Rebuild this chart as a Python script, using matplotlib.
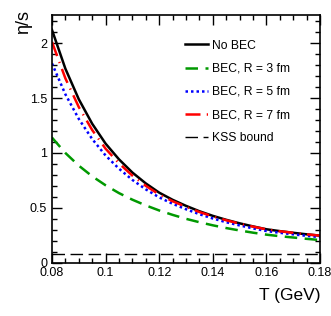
import matplotlib
matplotlib.use("Agg")
import matplotlib.pyplot as plt
from matplotlib.ticker import MultipleLocator, FixedLocator

plt.rcParams['font.family'] = ['Liberation Sans', 'DejaVu Sans']

T = [0.080, 0.085, 0.090, 0.095, 0.100, 0.105, 0.110, 0.115, 0.120, 0.125, 0.130,
     0.135, 0.140, 0.145, 0.150, 0.155, 0.160, 0.165, 0.170, 0.175, 0.180]
no_bec = [2.12, 1.767, 1.489, 1.266, 1.085, 0.942, 0.822, 0.723, 0.639, 0.574, 0.519,
          0.470, 0.428, 0.392, 0.360, 0.332, 0.306, 0.289, 0.274, 0.260, 0.248]
bec_r3 = [1.14, 1.00, 0.885, 0.788, 0.706, 0.635, 0.575, 0.523, 0.477, 0.437, 0.401,
          0.370, 0.342, 0.317, 0.295, 0.275, 0.257, 0.243, 0.231, 0.219, 0.208]
bec_r5 = [1.815, 1.534, 1.310, 1.127, 0.977, 0.857, 0.755, 0.669, 0.596, 0.538, 0.488,
          0.443, 0.404, 0.370, 0.341, 0.314, 0.290, 0.274, 0.260, 0.246, 0.235]
bec_r7 = [2.010, 1.679, 1.418, 1.209, 1.039, 0.906, 0.794, 0.701, 0.622, 0.561, 0.510,
          0.463, 0.423, 0.388, 0.357, 0.330, 0.305, 0.288, 0.274, 0.260, 0.248]
kss = 0.0796
x_ticks = [0.08, 0.10, 0.12, 0.14, 0.16, 0.18]
x_labels = ["0.08", "0.1", "0.12", "0.14", "0.16", "0.18"]
y_ticks = [0, 0.5, 1, 1.5, 2]
y_labels = ["0", "0.5", "1", "1.5", "2"]

fig = plt.figure(figsize=(3.31, 3.16), dpi=100)
ax = fig.add_axes([0.157, 0.168, 0.810, 0.7845])

ax.plot(T, no_bec, color='black', lw=1.8, label='No BEC')
ax.plot(T, bec_r3, color='#009900', lw=1.8, ls=(0, (5, 3)), label='BEC, R = 3 fm')
ax.plot(T, bec_r5, color='#0000ff', lw=1.8, ls=(0, (1, 1.2)), label='BEC, R = 5 fm')
ax.plot(T, bec_r7, color='#ff0000', lw=1.8, ls=(0, (6, 2.5, 0.5, 2.5)), label='BEC, R = 7 fm')
ax.axhline(kss, color='black', lw=1.0, ls=(0, (9, 4)), label='KSS bound')

ax.set_xlim(0.08, 0.18)
ax.set_ylim(0, 2.255)
ax.xaxis.set_major_locator(FixedLocator(x_ticks))
ax.set_xticklabels(x_labels)
ax.yaxis.set_major_locator(FixedLocator(y_ticks))
ax.set_yticklabels(y_labels)
ax.xaxis.set_minor_locator(MultipleLocator(0.005))
ax.yaxis.set_minor_locator(MultipleLocator(0.1))
ax.tick_params(which='both', direction='in', top=True, right=True, labelsize=9, width=1.0)
ax.tick_params(which='major', length=7)
ax.tick_params(which='minor', length=3.5)
ax.tick_params(axis='x', pad=3)
for s in ax.spines.values():
    s.set_linewidth(1.2)

fig.text(0.968, 0.04, 'T (GeV)', ha='right', va='bottom', fontsize=12.5)
fig.text(0.045, 0.968, 'η/s', ha='left', va='top', rotation=90, fontsize=13)

leg = ax.legend(loc='upper left', bbox_to_anchor=(0.48, 0.92), frameon=False, fontsize=8.7,
                handlelength=1.9, handletextpad=0.33, labelspacing=0.92, borderaxespad=0,
                borderpad=0.4)

fig.savefig('out.png', dpi=100)
